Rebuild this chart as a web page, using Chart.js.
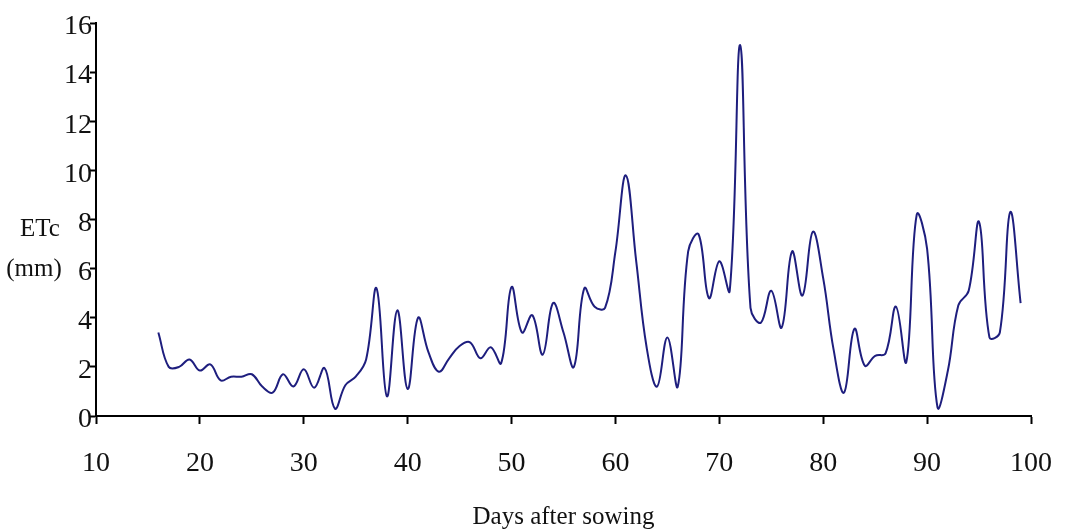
<!DOCTYPE html>
<html>
<head>
<meta charset="utf-8">
<script src="https://cdn.jsdelivr.net/npm/chart.js@4"></script>
<style>
  html, body { margin: 0; padding: 0; background: #fff; }
  #wrap { width: 1067px; height: 532px; position: relative; }
</style>
</head>
<body>
<div id="wrap"><canvas id="etcChart"></canvas></div>
<script>
'use strict';

// Daily crop evapotranspiration (ETc, mm) by days after sowing
const days = [
  16, 17, 18, 19, 20, 21, 22, 23, 24, 25, 26, 27, 28, 29, 30, 31, 32, 33, 34, 35, 36,
  37, 38, 39, 40, 41, 42, 43, 44, 45, 46, 47, 48, 49, 50, 51, 52, 53, 54, 55, 56, 57,
  58, 59, 60, 61, 62, 63, 64, 65, 66, 67, 68, 69, 70, 71, 72, 73, 74, 75, 76, 77, 78,
  79, 80, 81, 82, 83, 84, 85, 86, 87, 88, 89, 90, 91, 92, 93, 94, 95, 96, 97, 98, 99
];
const etc = [
  3.4, 2.0, 2.0, 2.3, 1.85, 2.1, 1.45, 1.6, 1.6, 1.7, 1.2, 0.95, 1.7, 1.2, 1.9, 1.15, 1.95, 0.3, 1.25, 1.6, 2.3,
  5.2, 0.8, 4.3, 1.1, 4.0, 2.6, 1.8, 2.35, 2.85, 3.0, 2.35, 2.8, 2.15, 5.25, 3.4, 4.1, 2.5, 4.6, 3.4, 2.0, 5.2,
  4.45, 4.4, 6.7, 9.8, 6.3, 2.8, 1.2, 3.2, 1.2, 6.7, 7.4, 4.8, 6.3, 5.1, 15.1, 4.4, 3.8, 5.1, 3.6, 6.7, 4.9,
  7.5, 5.6, 2.7, 0.95, 3.55, 2.05, 2.45, 2.55, 4.45, 2.2, 8.2, 6.8, 0.35, 1.85, 4.5, 5.1, 7.9, 3.2, 3.4, 8.3, 4.6
];

const xTicks = [10, 20, 30, 40, 50, 60, 70, 80, 90, 100];
const yTicks = [0, 2, 4, 6, 8, 10, 12, 14, 16];

const fontFamily = '"Liberation Serif", "Times New Roman", serif';
const lineColor = '#1e1e7e';
const axisColor = '#000';
const textColor = '#111';

// Horizontal y-axis caption to the left of the tick labels
const yCaption = {
  id: 'yCaption',
  afterDraw(chart) {
    const ctx = chart.ctx;
    ctx.save();
    ctx.fillStyle = textColor;
    ctx.font = '25px ' + fontFamily;
    ctx.textAlign = 'center';
    ctx.textBaseline = 'middle';
    ctx.fillText('ETc', 40, 229);
    ctx.fillText('(mm)', 34, 269);
    ctx.restore();
  }
};

document.addEventListener('DOMContentLoaded', function () {
  const ctx = document.getElementById('etcChart').getContext('2d');

  const etcChart = new Chart(ctx, {
    type: 'line',
    data: {
      datasets: [{
        label: 'ETc',
        data: days.map((d, i) => ({ x: d, y: etc[i] })),
        borderColor: lineColor,
        borderWidth: 2,
        fill: false,
        tension: 0.4,
        pointRadius: 0
      }]
    },
    options: {
      responsive: true,
      maintainAspectRatio: false,
      animation: false,
      layout: { padding: { top: 23, right: 36, bottom: 0, left: 0 } },
      plugins: {
        legend: { display: false },
        tooltip: { enabled: false }
      },
      scales: {
        x: {
          type: 'linear',
          min: 10,
          max: 100,
          afterBuildTicks: scale => { scale.ticks = xTicks.map(v => ({ value: v })); },
          // fixed axis band; the "100" label may spill into the right margin
          afterFit: scale => {
            scale.height = 116;
            scale.paddingLeft = 0;
            scale.paddingRight = 0;
          },
          border: { color: axisColor, width: 2 },
          grid: { drawOnChartArea: false, drawTicks: true, tickLength: 8, tickColor: axisColor, tickWidth: 2 },
          ticks: {
            color: textColor,
            padding: 23,
            maxRotation: 0,
            font: { family: fontFamily, size: 28 }
          },
          title: {
            display: true,
            text: 'Days after sowing',
            color: textColor,
            font: { family: fontFamily, size: 25 },
            padding: { top: 0, bottom: 0 }
          }
        },
        y: {
          min: 0,
          max: 16,
          afterBuildTicks: scale => { scale.ticks = yTicks.map(v => ({ value: v })); },
          afterFit: scale => { scale.width = 96; },
          border: { color: axisColor, width: 2 },
          grid: { drawOnChartArea: false, drawTicks: true, tickLength: 6, tickColor: axisColor, tickWidth: 2 },
          ticks: {
            color: textColor,
            padding: -2,
            labelOffset: 4,
            font: { family: fontFamily, size: 28 }
          }
        }
      }
    },
    plugins: [yCaption]
  });

  etcChart.render();
});
</script>
</body>
</html>
